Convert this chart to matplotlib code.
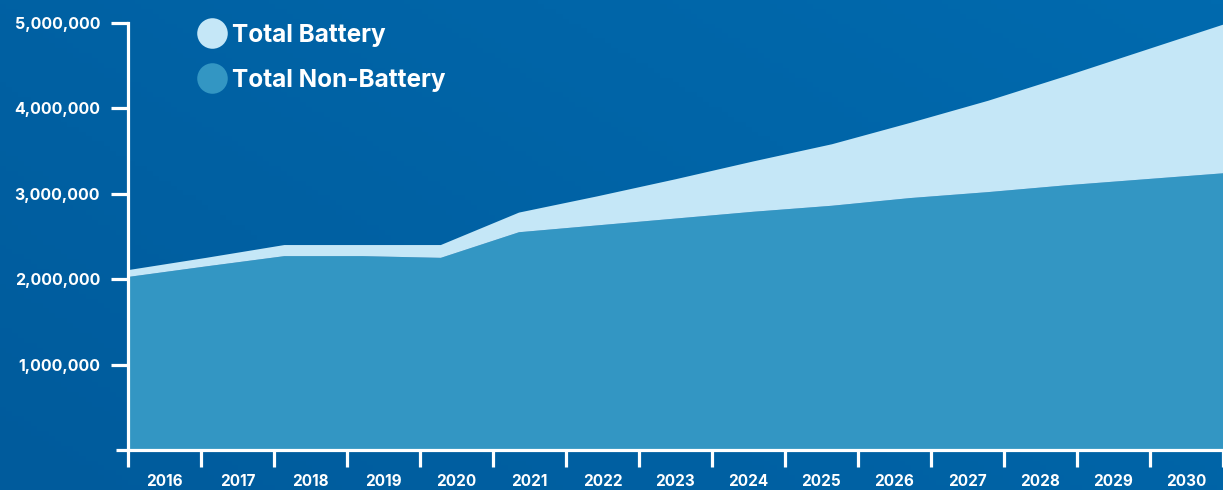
import numpy as np
import matplotlib
matplotlib.use("Agg")
import matplotlib.pyplot as plt
from matplotlib.lines import Line2D
from matplotlib.ticker import FuncFormatter

# Data
years = ['2016', '2017', '2018', '2019', '2020', '2021', '2022', '2023',
         '2024', '2025', '2026', '2027', '2028', '2029', '2030']
non_battery = [2026000, 2150000, 2270000, 2270000, 2250000, 2550000, 2630000, 2710000,
               2790000, 2860000, 2950000, 3020000, 3100000, 3170000, 3240000]
battery = [80000, 100000, 130000, 130000, 150000, 230000, 340000, 460000,
           590000, 720000, 880000, 1070000, 1280000, 1510000, 1740000]
y_ticks = [1000000, 2000000, 3000000, 4000000, 5000000]

plt.rcParams['font.family'] = ['Inter', 'DejaVu Sans']
plt.rcParams['font.weight'] = 'bold'

light = '#c5e7f7'
mid = '#3396c3'
white = 'white'

fig = plt.figure(figsize=(12.23, 4.9), dpi=100)

# background gradient
bg = fig.add_axes([0, 0, 1, 1], zorder=-10)
gx, gy = np.meshgrid(np.linspace(0, 1, 200), np.linspace(0, 1, 100))
grad = 0.6 * gx + 0.4 * gy
bg.imshow(grad, extent=[0, 1, 0, 1], aspect='auto', origin='lower',
          cmap=matplotlib.colors.LinearSegmentedColormap.from_list('bg', ['#005b9c', '#006aae']))
bg.axis('off')

ax = fig.add_axes([128 / 1223, 40 / 490, 1 - 128 / 1223, (450 - 23) / 490])
ax.patch.set_alpha(0)

x = np.arange(len(years))
ax.stackplot(x, non_battery, battery, colors=[mid, light], linewidth=0)

ax.set_xlim(0, len(years) - 1)
ax.set_ylim(0, 5000000)

for s in ['top', 'right']:
    ax.spines[s].set_visible(False)
for s in ['left', 'bottom']:
    ax.spines[s].set_color(white)
    ax.spines[s].set_linewidth(2.3)

# y axis
ax.set_yticks(y_ticks)
ax.yaxis.set_major_formatter(FuncFormatter(lambda v, p: f'{int(v):,}'))
ax.tick_params(axis='y', which='major', length=12, width=2.3, color=white,
               labelcolor=white, labelsize=11.5, pad=8)
ax.set_yticks([0], minor=True)
ax.tick_params(axis='y', which='minor', length=9, width=2.3, color=white)
ax.yaxis.set_minor_formatter(FuncFormatter(lambda v, p: ''))

# x axis: tick marks at boundaries, labels between
edges = np.linspace(0, len(years) - 1, len(years) + 1)
centers = (edges[:-1] + edges[1:]) / 2
ax.set_xticks(edges)
ax.set_xticklabels([''] * len(edges))
ax.tick_params(axis='x', which='major', length=12, width=2.3, color=white)
ax.set_xticks(centers, minor=True)
ax.set_xticklabels(years, minor=True)
ax.tick_params(axis='x', which='minor', length=0, labelcolor=white,
               labelsize=11, pad=17)
ax.spines['bottom'].set_clip_on(False)

handles = [
    Line2D([], [], marker='o', linestyle='None', markersize=22,
           markerfacecolor=light, markeredgecolor='none', label='Total Battery'),
    Line2D([], [], marker='o', linestyle='None', markersize=22,
           markerfacecolor=mid, markeredgecolor='none', label='Total Non-Battery'),
]
leg = fig.legend(handles=handles, loc='upper left', bbox_to_anchor=(177 / 1223, 1 - 2 / 490),
                 frameon=False, handletextpad=0.25, labelspacing=0.9, handlelength=1.1,
                 prop={'family': ['Inter', 'DejaVu Sans'], 'weight': 'bold', 'size': 17.5})
for t in leg.get_texts():
    t.set_color(white)

fig.savefig('out.png', dpi=100)
